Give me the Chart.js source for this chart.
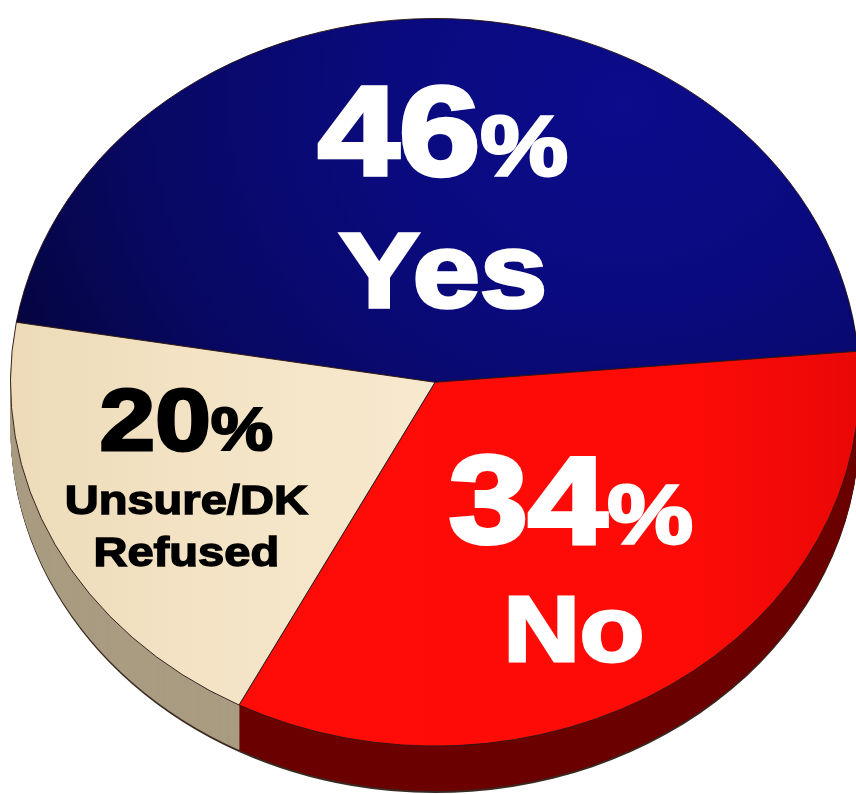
<!DOCTYPE html>
<html>
<head>
<meta charset="UTF-8">
<title>Pie</title>
<script src="https://cdn.jsdelivr.net/npm/chart.js@4.4.0/dist/chart.umd.min.js"></script>
<style>
    html, body { margin: 0; padding: 0; background: #fff; overflow: hidden; }
    #wrap { width: 870px; height: 870px; }
</style>
</head>
<body>

<div id="wrap"><canvas id="pie"></canvas></div>

<script>
    // data
    var labels = ['Yes', 'No', 'Unsure/DK\nRefused'];
    var values = [46, 34, 20];

    // colours
    var sideColors = ['#02023a', '#6c0000', '#a99c82'];
    var textColors = ['#ffffff', '#ffffff', '#000000'];

    var tilt = 0.857;   // vertical squash of the top face
    var depth = 47;     // thickness of the pie (px)
    var stretch = 1.15; // labels are a wide, heavy bold

    // label placement: offsets from the centre (for a 425px radius), font size per line
    var labelBox = [
        {dx: [8, 8],              dy: [-208, -75],      size: [127, 105],    pct: 86},
        {dx: [136, 139],          dy: [161, 279],       size: [124, 92],     pct: 84},
        {dx: [-249, -249, -249],  dy: [68, 132, 184],   size: [87, 41, 41],  pct: 61}
    ];

    var font = '"Liberation Sans", Arial, sans-serif';

    function heavyText(ctx, text, x, y, size, color) {
        ctx.font = 'bold ' + size + 'px ' + font;
        ctx.fillStyle = color;
        ctx.strokeStyle = color;
        ctx.lineWidth = size * 0.034;
        ctx.lineJoin = 'miter';
        ctx.miterLimit = 3;
        ctx.fillText(text, x, y);
        ctx.strokeText(text, x, y);
    }

    var pie3d = {
        id: 'pie3d',
        beforeDatasetsDraw: function (chart) {
            var ctx = chart.ctx;
            var meta = chart.getDatasetMeta(0);
            var a0 = meta.data[0];
            var top = a0.y - a0.outerRadius;
            ctx.save();
            ctx.translate(0, top);
            ctx.scale(1, tilt);
            ctx.translate(0, -top);
            // side wall: sectors stacked downwards
            for (var d = depth; d > 0; d--) {
                meta.data.forEach(function (arc, i) {
                    var oy = arc.y + d / tilt;
                    ctx.beginPath();
                    ctx.moveTo(arc.x, oy);
                    ctx.arc(arc.x, oy, arc.outerRadius, arc.startAngle, arc.endAngle);
                    ctx.closePath();
                    ctx.fillStyle = (d > depth - 2) ? '#3a2a22' : sideColors[i];
                    ctx.fill();
                });
            }
        },
        afterDatasetsDraw: function (chart) {
            var ctx = chart.ctx;
            ctx.restore();
            var meta = chart.getDatasetMeta(0);
            var a0 = meta.data[0];
            var top = a0.y - a0.outerRadius;
            var cx = a0.x;
            var cy = top + a0.outerRadius * tilt;
            var f = a0.outerRadius / 425;

            ctx.save();
            ctx.textBaseline = 'alphabetic';
            labelBox.forEach(function (b, i) {
                var col = textColors[i];
                // first line: value + smaller %
                var num = String(values[i]);
                ctx.font = 'bold ' + (b.size[0] * f) + 'px ' + font;
                var w1 = ctx.measureText(num).width;
                ctx.font = 'bold ' + (b.pct * f) + 'px ' + font;
                var w2 = ctx.measureText('%').width;
                ctx.save();
                ctx.translate(cx + b.dx[0] * f - (w1 + w2) * stretch / 2, cy + b.dy[0] * f);
                ctx.scale(stretch, 1);
                ctx.textAlign = 'left';
                heavyText(ctx, num, 0, 0, b.size[0] * f, col);
                heavyText(ctx, '%', w1, 0, b.pct * f, col);
                ctx.restore();
                // name lines
                labels[i].split('\n').forEach(function (t, j) {
                    ctx.save();
                    ctx.translate(cx + b.dx[j + 1] * f, cy + b.dy[j + 1] * f);
                    ctx.scale(stretch, 1);
                    ctx.textAlign = 'center';
                    heavyText(ctx, t, 0, 0, b.size[j + 1] * f, col);
                    ctx.restore();
                });
            });
            ctx.restore();
        }
    };

    var ctx = document.getElementById('pie').getContext('2d');
    var chart = new Chart(ctx, {
        type: 'pie',
        data: {
            labels: labels,
            datasets: [{
                data: values,
                backgroundColor: function (c) {
                    var ch = c.chart;
                    var area = ch.chartArea;
                    if (!area) return '#888';
                    var w = area.right - area.left;
                    var g;
                    if (c.dataIndex === 0) {
                        g = ch.ctx.createRadialGradient(area.left + w * 0.72, area.top + w * 0.12, 0,
                                                        area.left + w * 0.72, area.top + w * 0.12, w * 0.8);
                        g.addColorStop(0, '#0c0c8c');
                        g.addColorStop(0.35, '#0a0a7e');
                        g.addColorStop(0.7, '#080864');
                        g.addColorStop(1, '#04043c');
                    } else if (c.dataIndex === 1) {
                        g = ch.ctx.createLinearGradient(area.left, 0, area.right, 0);
                        g.addColorStop(0, '#ff0c08');
                        g.addColorStop(0.8, '#fe0b07');
                        g.addColorStop(1, '#e80806');
                    } else {
                        g = ch.ctx.createLinearGradient(area.left, 0, area.left + w * 0.5, 0);
                        g.addColorStop(0, '#eddbb8');
                        g.addColorStop(0.5, '#f4e4c6');
                        g.addColorStop(1, '#f7e9cf');
                    }
                    return g;
                },
                borderColor: '#2a1414',
                borderWidth: 1
            }]
        },
        options: {
            responsive: true,
            maintainAspectRatio: false,
            animation: false,
            rotation: -80.5,
            layout: {padding: {left: 10, right: 10, top: 18, bottom: 2}},
            plugins: {
                legend: {display: false},
                tooltip: {enabled: false}
            }
        },
        plugins: [pie3d]
    });
</script>

</body>
</html>
